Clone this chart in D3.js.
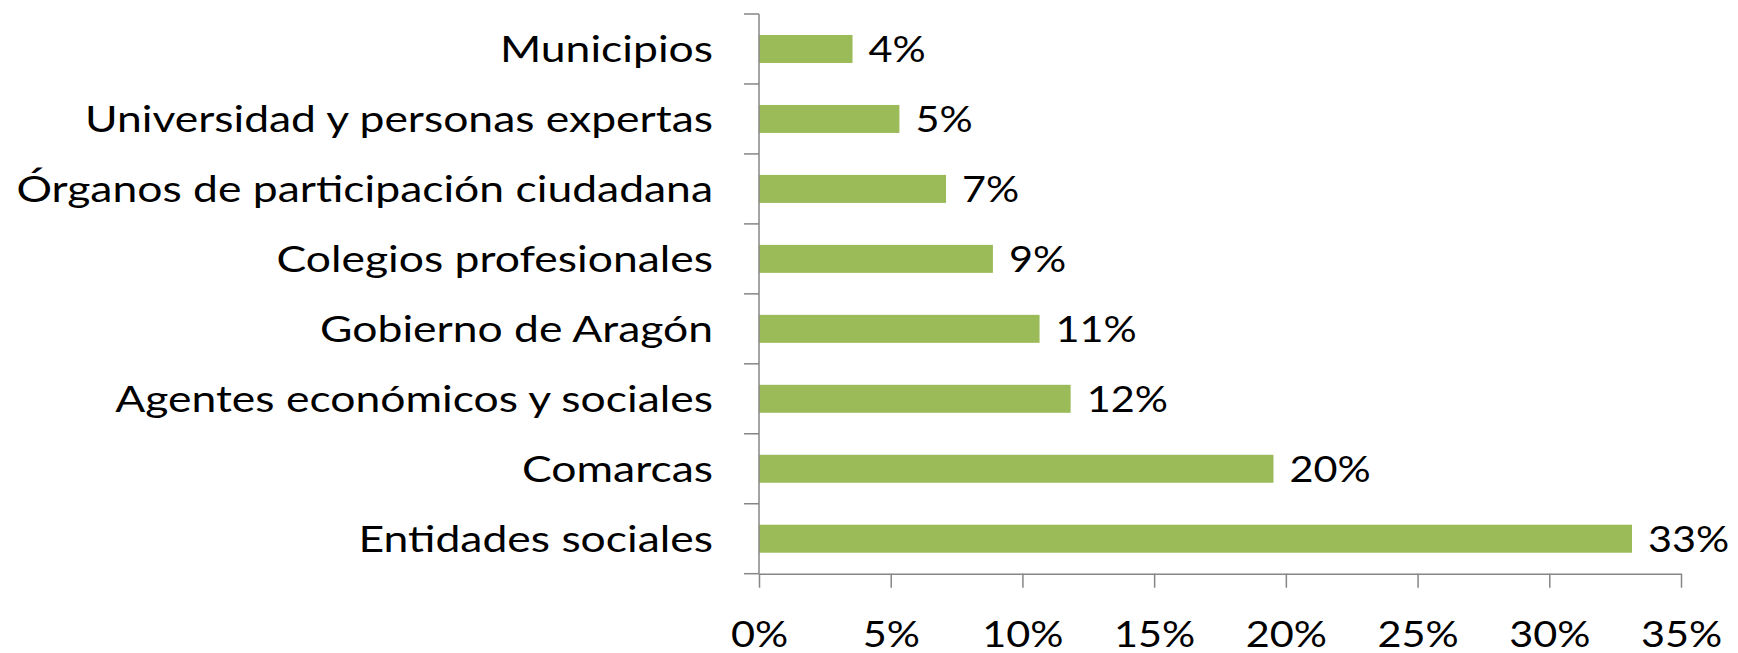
<!DOCTYPE html>
<html lang="es">
<head>
    <meta charset="UTF-8">
    <title>Participación por tipo de agente</title>
    <script src="https://d3js.org/d3.v7.min.js"></script>
    <style>
        body { margin: 0; background-color: #ffffff; overflow: hidden; }
        #chart { width: 1738px; height: 653px; }
        text { font-family: Lato, "Liberation Sans", sans-serif; fill: #000; }
    </style>
</head>
<body>
    <div id="chart"></div>
    <script>
        // categories, top to bottom
        const categories = [
            "Municipios",
            "Universidad y personas expertas",
            "Órganos de participación ciudadana",
            "Colegios profesionales",
            "Gobierno de Aragón",
            "Agentes económicos y sociales",
            "Comarcas",
            "Entidades sociales"
        ];
        // share of participants (%)
        const shares = [3.55, 5.33, 7.10, 8.88, 10.65, 11.83, 19.53, 33.14];
        const xTicks = [0, 5, 10, 15, 20, 25, 30, 35];

        const width = 1738, height = 653;
        const margin = { top: 14, right: 57, bottom: 79.3, left: 759 };
        const fontSize = 36;
        // original chart text is a bit wide, stretch horizontally
        const numStretch = 1.15;
        const labelStretch = 1.235;

        const svg = d3.select("#chart").append("svg")
            .attr("width", width)
            .attr("height", height);

        const data = categories.map((c, i) => ({ name: c, value: shares[i] }));

        const x = d3.scaleLinear()
            .domain([0, 35])
            .range([margin.left, width - margin.right]);

        const y = d3.scaleBand()
            .domain(categories)
            .range([margin.top, height - margin.bottom])
            .padding(0);

        const barH = y.bandwidth() * 0.4;
        const axisColor = "#868686";

        // bars
        svg.selectAll(".bar")
            .data(data)
            .enter().append("rect")
            .attr("class", "bar")
            .attr("x", x(0))
            .attr("y", d => y(d.name) + (y.bandwidth() - barH) / 2)
            .attr("width", d => x(d.value) - x(0))
            .attr("height", barH)
            .attr("fill", "#9bbb59");

        // data labels
        svg.selectAll(".value")
            .data(data)
            .enter().append("text")
            .attr("class", "value")
            .attr("transform", d => `translate(${x(d.value) + 16},${y(d.name) + y.bandwidth() / 2 + 13}) scale(${numStretch},1)`)
            .style("font-size", fontSize + "px")
            .text(d => d3.format(".0f")(d.value) + "%");

        // x axis
        const xAxis = svg.append("g")
            .attr("transform", `translate(0,${height - margin.bottom})`)
            .call(d3.axisBottom(x).tickValues(xTicks).tickSize(14).tickSizeOuter(0).tickPadding(0)
                .tickFormat(d => d + "%"));
        xAxis.selectAll("path, line").attr("stroke", axisColor).attr("stroke-width", 1.5);
        xAxis.selectAll("text")
            .attr("y", 73)
            .attr("dy", null)
            .attr("transform", `scale(${numStretch},1)`)
            .style("font-size", fontSize + "px")
            .style("font-family", "Lato, sans-serif")
            .attr("fill", "#000");

        // y axis: labels centred on bands, ticks on band edges
        const yAxis = svg.append("g")
            .attr("transform", `translate(${margin.left},0)`)
            .call(d3.axisLeft(y).tickSize(0).tickPadding(0));
        yAxis.select(".domain").remove();
        yAxis.selectAll("text")
            .attr("x", null)
            .attr("dy", null)
            .attr("transform", `translate(-46,13) scale(${labelStretch},1)`)
            .style("font-size", fontSize + "px")
            .style("font-family", "Lato, sans-serif")
            .attr("fill", "#000");

        const edges = categories.map(c => y(c)).concat([y.range()[1]]);
        svg.selectAll(".ytick")
            .data(edges)
            .enter().append("line")
            .attr("class", "ytick")
            .attr("x1", margin.left - 15)
            .attr("x2", margin.left)
            .attr("y1", d => d)
            .attr("y2", d => d)
            .attr("stroke", axisColor)
            .attr("stroke-width", 1.5);

        svg.append("line")
            .attr("x1", margin.left)
            .attr("x2", margin.left)
            .attr("y1", margin.top)
            .attr("y2", height - margin.bottom)
            .attr("stroke", axisColor)
            .attr("stroke-width", 1.5);
    </script>
</body>
</html>
